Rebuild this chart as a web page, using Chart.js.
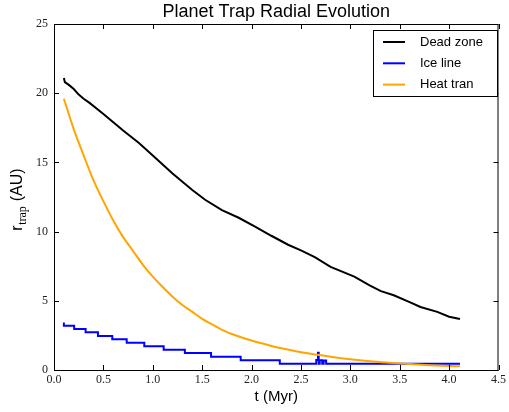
<!DOCTYPE html>
<html>
<head>
<meta charset="utf-8">
<script src="https://cdn.jsdelivr.net/npm/chart.js@4/dist/chart.umd.min.js"></script>
<style>
  html, body { margin: 0; padding: 0; background: #fff; }
  #wrap { width: 509px; height: 412px; }
</style>
</head>
<body>
<div id="wrap"><canvas id="c" width="509" height="412"></canvas></div>
<script>
// data
const deadT = [0.10, 0.11, 0.15, 0.20, 0.25, 0.30, 0.36, 0.50, 0.60, 0.70, 0.86, 1.00, 1.10, 1.20, 1.30, 1.40, 1.53, 1.70, 1.87, 2.04, 2.20, 2.37, 2.50, 2.64, 2.80, 3.04, 3.20, 3.31, 3.44, 3.60, 3.71, 3.88, 4.00, 4.11];
const deadR = [21.1, 20.8, 20.6, 20.3, 19.9, 19.6, 19.3, 18.5, 17.9, 17.3, 16.4, 15.5, 14.85, 14.2, 13.6, 13.0, 12.3, 11.55, 11.0, 10.35, 9.7, 9.05, 8.65, 8.15, 7.45, 6.75, 6.1, 5.7, 5.4, 4.9, 4.55, 4.2, 3.85, 3.68];

const iceT = [0.10, 0.204, 0.32, 0.445, 0.59, 0.736, 0.914, 1.11, 1.325, 1.59, 1.89, 2.286, 2.655, 2.672, 2.68, 2.69, 2.715, 2.73, 2.755, 2.77, 4.11];
const iceR = [3.44, 3.20, 2.96, 2.72, 2.46, 2.22, 1.97, 1.71, 1.47, 1.23, 0.96, 0.70, 0.45, 0.72, 1.25, 0.45, 0.70, 0.45, 0.68, 0.45, 0.45];

const heatT = [0.10, 0.20, 0.30, 0.40, 0.50, 0.60, 0.70, 0.80, 0.90, 1.00, 1.10, 1.20, 1.30, 1.40, 1.50, 1.60, 1.70, 1.80, 1.90, 2.00, 2.20, 2.40, 2.60, 2.80, 3.00, 3.20, 3.40, 3.60, 3.80, 4.00, 4.11];
const heatR = [19.6, 17.4, 15.5, 13.7, 12.2, 10.8, 9.6, 8.6, 7.6, 6.75, 6.0, 5.3, 4.7, 4.2, 3.7, 3.3, 2.9, 2.6, 2.35, 2.13, 1.74, 1.43, 1.17, 0.96, 0.78, 0.64, 0.53, 0.43, 0.35, 0.29, 0.27];

const seriesNames = ['Dead zone', 'Ice line', 'Heat tran'];
const seriesColors = ['#000000', '#0000ff', '#ffa500'];
const xTicks = [0, 0.5, 1, 1.5, 2, 2.5, 3, 3.5, 4, 4.5];
const yTicks = [0, 5, 10, 15, 20, 25];

const pts = (xs, ys) => xs.map((x, i) => ({ x: x, y: ys[i] }));

const serif = "'Liberation Serif', 'DejaVu Serif', serif";
const sans = "'Liberation Sans', Arial, sans-serif";

// frame, inward ticks, title, y label and legend
const decor = {
  id: 'decor',
  afterDraw(chart) {
    const ctx = chart.ctx;
    const a = chart.chartArea;
    const xs = chart.scales.x, ys = chart.scales.y;
    ctx.save();
    ctx.strokeStyle = '#000';
    ctx.lineWidth = 1;
    ctx.strokeRect(a.left + 0.5, a.top + 0.5, a.right - a.left - 1, a.bottom - a.top);
    ctx.beginPath();
    xTicks.forEach(v => {
      const px = Math.round(xs.getPixelForValue(v)) + 0.5;
      ctx.moveTo(px, a.bottom); ctx.lineTo(px, a.bottom - 5);
      ctx.moveTo(px, a.top); ctx.lineTo(px, a.top + 5);
    });
    yTicks.forEach(v => {
      const py = Math.round(ys.getPixelForValue(v)) + 0.5;
      ctx.moveTo(a.left, py); ctx.lineTo(a.left + 5, py);
      ctx.moveTo(a.right, py); ctx.lineTo(a.right - 5, py);
    });
    ctx.stroke();

    // title
    ctx.fillStyle = '#000';
    ctx.font = '18px ' + sans;
    ctx.textAlign = 'center';
    ctx.textBaseline = 'middle';
    ctx.fillText('Planet Trap Radial Evolution', (a.left + a.right) / 2, 12);

    // y label with subscript
    ctx.translate(18, 200);
    ctx.rotate(-Math.PI / 2);
    ctx.textAlign = 'left';
    ctx.textBaseline = 'middle';
    ctx.font = '16px ' + sans;
    const w1 = ctx.measureText('r').width;
    ctx.font = '12px ' + serif;
    const w2 = ctx.measureText('trap').width;
    ctx.font = '16px ' + sans;
    const w3 = ctx.measureText(' (AU)').width;
    let x0 = -(w1 + w2 + w3) / 2;
    ctx.fillText('r', x0, 0);
    ctx.font = '12px ' + serif;
    ctx.fillText('trap', x0 + w1 + 0.5, 5);
    ctx.font = '16px ' + sans;
    ctx.fillText(' (AU)', x0 + w1 + w2 + 1, 0);
    ctx.restore();

    // legend box
    ctx.save();
    ctx.strokeStyle = '#000';
    ctx.lineWidth = 1;
    ctx.fillStyle = '#fff';
    ctx.fillRect(373.5, 30.5, 124, 66);
    ctx.strokeRect(373.5, 30.5, 124, 66);
    ctx.font = '13px ' + sans;
    ctx.textBaseline = 'middle';
    ctx.textAlign = 'left';
    seriesNames.forEach((name, i) => {
      const y = 42 + i * 21.3;
      ctx.strokeStyle = seriesColors[i];
      ctx.lineWidth = 2;
      ctx.beginPath();
      ctx.moveTo(383, y); ctx.lineTo(405, y);
      ctx.stroke();
      ctx.fillStyle = '#000';
      ctx.fillText(name, 420, y);
    });
    ctx.restore();
  }
};

new Chart(document.getElementById('c'), {
  type: 'line',
  data: {
    datasets: [
      { label: seriesNames[0], data: pts(deadT, deadR), borderColor: seriesColors[0], borderWidth: 2, pointRadius: 0, tension: 0, order: 2 },
      { label: seriesNames[1], data: pts(iceT, iceR), borderColor: seriesColors[1], borderWidth: 2, pointRadius: 0, stepped: 'after', order: 1 },
      { label: seriesNames[2], data: pts(heatT, heatR), borderColor: seriesColors[2], borderWidth: 2, pointRadius: 0, cubicInterpolationMode: 'monotone', order: 0 }
    ]
  },
  options: {
    responsive: false,
    animation: false,
    layout: { padding: { top: 24, right: 7, left: 0, bottom: 0 } },
    plugins: { legend: { display: false }, tooltip: { enabled: false } },
    scales: {
      x: {
        type: 'linear', min: 0, max: 4.5,
        afterBuildTicks(s) { s.ticks = xTicks.map(v => ({ value: v })); },
        afterFit(s) { s.height = 42; },
        grid: { display: false, drawTicks: false },
        border: { display: false },
        ticks: { padding: 3, color: '#222', font: { family: serif, size: 12 }, callback: v => v.toFixed(1), maxRotation: 0 },
        title: { display: true, text: 't (Myr)', color: '#000', font: { family: sans, size: 15 }, padding: { top: 0, bottom: 6 } }
      },
      y: {
        min: 0, max: 25,
        afterBuildTicks(s) { s.ticks = yTicks.map(v => ({ value: v })); },
        afterFit(s) { s.width = 54; },
        grid: { display: false, drawTicks: false },
        border: { display: false },
        ticks: { padding: 6, color: '#222', font: { family: serif, size: 12 } }
      }
    }
  },
  plugins: [decor]
});
</script>
</body>
</html>
